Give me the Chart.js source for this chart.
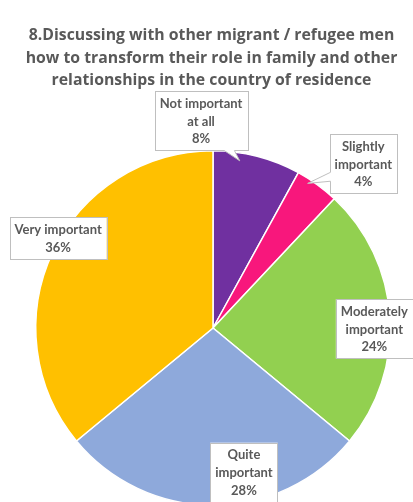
<!DOCTYPE html>
<html>
<head>
<meta charset="utf-8">
<script src="https://cdn.jsdelivr.net/npm/chart.js@4/dist/chart.umd.min.js"></script>
<style>
  html, body { margin: 0; padding: 0; background: #ffffff; overflow: hidden; }
  #wrap { width: 413px; height: 520px; position: relative; }
</style>
</head>
<body>
<div id="wrap"><canvas id="pie" width="413" height="520"></canvas></div>
<script>
// Survey answers, in clockwise order from 12 o'clock
const categories = [
  ['Not important', 'at all'],
  ['Slightly', 'important'],
  ['Moderately', 'important'],
  ['Quite', 'important'],
  ['Very important']
];
const shares = [8, 4, 24, 28, 36];
const sliceColors = ['#7030A0', '#F8177C', '#92D050', '#8EA9DB', '#FFC000'];
const titleLines = [
  '8.Discussing with other migrant / refugee men',
  'how to transform their role in family and other',
  'relationships in the country of residence'
];

const TEXT_COLOR = '#595959';
const TITLE_FONT = 'bold 15.8px "Open Sans", Lato, "Liberation Sans", sans-serif';
const LABEL_FONT = 'bold 13px Lato, "Open Sans", "Liberation Sans", sans-serif';

// Where each callout box sits relative to its slice (angle shift in degrees,
// distance as a fraction of the pie radius) and optional pointer wedge.
const calloutPlacement = [
  { shift: -17.7, dist: 1.17, pointer: { side: 'bottom', from: 0.75, to: 0.86, tipShift: -5.3, tipDist: 0.955 } },
  { shift: 6.5, dist: 1.255, pointer: { side: 'left', from: 0.64, to: 0.79, tipShift: -2.8, tipDist: 0.975 } },
  { shift: 3.9, dist: 0.91 },
  { shift: -12.1, dist: 0.833 },
  { shift: 4.9, dist: 1.01 }
];

const titlePlugin = {
  id: 'chartHeading',
  afterDraw(chart) {
    const ctx = chart.ctx;
    ctx.save();
    ctx.fillStyle = TEXT_COLOR;
    ctx.font = TITLE_FONT;
    ctx.textAlign = 'center';
    ctx.textBaseline = 'alphabetic';
    titleLines.forEach((line, i) => {
      ctx.fillText(line, 211.5, 40 + i * 22.5);
    });
    ctx.restore();
  }
};

const calloutPlugin = {
  id: 'sliceCallouts',
  afterDatasetsDraw(chart) {
    const ctx = chart.ctx;
    const meta = chart.getDatasetMeta(0);
    const lineH = 17.8;
    const padX = 5;
    const padY = 3;
    ctx.save();
    ctx.font = LABEL_FONT;
    meta.data.forEach((arc, i) => {
      const props = arc.getProps(['x', 'y', 'startAngle', 'endAngle', 'outerRadius'], true);
      const mid = (props.startAngle + props.endAngle) / 2;
      const place = calloutPlacement[i];
      const ang = mid + place.shift * Math.PI / 180;
      const cx = props.x + props.outerRadius * place.dist * Math.cos(ang);
      const cy = props.y + props.outerRadius * place.dist * Math.sin(ang);
      const lines = [].concat(categories[i], shares[i] + '%');
      const textW = Math.max(...lines.map(l => ctx.measureText(l).width));
      const w = textW + padX * 2;
      const h = lines.length * lineH + padY * 2;
      const left = cx - w / 2;
      const top = cy - h / 2;

      ctx.fillStyle = '#ffffff';
      ctx.strokeStyle = '#BFBFBF';
      ctx.lineWidth = 1;
      ctx.fillRect(left, top, w, h);
      ctx.strokeRect(Math.round(left) + 0.5, Math.round(top) + 0.5, Math.round(w), Math.round(h));

      if (place.pointer) {
        const pt = place.pointer;
        const ta = mid + pt.tipShift * Math.PI / 180;
        const tx = props.x + props.outerRadius * pt.tipDist * Math.cos(ta);
        const ty = props.y + props.outerRadius * pt.tipDist * Math.sin(ta);
        let a, b, ai, bi;
        if (pt.side === 'bottom') {
          const yb = Math.round(top) + Math.round(h) + 0.5;
          a = [left + w * pt.from, yb];
          b = [left + w * pt.to, yb];
          ai = [a[0], yb - 2];
          bi = [b[0], yb - 2];
        } else {
          const xl = Math.round(left) + 0.5;
          a = [xl, top + h * pt.from];
          b = [xl, top + h * pt.to];
          ai = [xl + 2, a[1]];
          bi = [xl + 2, b[1]];
        }
        ctx.beginPath();
        ctx.moveTo(ai[0], ai[1]);
        ctx.lineTo(a[0], a[1]);
        ctx.lineTo(tx, ty);
        ctx.lineTo(b[0], b[1]);
        ctx.lineTo(bi[0], bi[1]);
        ctx.closePath();
        ctx.fill();
        ctx.beginPath();
        ctx.moveTo(a[0], a[1]);
        ctx.lineTo(tx, ty);
        ctx.lineTo(b[0], b[1]);
        ctx.stroke();
      }

      ctx.fillStyle = TEXT_COLOR;
      ctx.textAlign = 'center';
      ctx.textBaseline = 'middle';
      lines.forEach((l, k) => {
        ctx.fillText(l, cx, top + padY + lineH * (k + 0.5) + 0.5);
      });
    });
    ctx.restore();
  }
};

new Chart(document.getElementById('pie'), {
  type: 'pie',
  data: {
    labels: categories,
    datasets: [{
      data: shares,
      backgroundColor: sliceColors,
      borderColor: '#ffffff',
      borderWidth: 1.5
    }]
  },
  options: {
    responsive: false,
    animation: false,
    layout: { padding: { top: 150, left: 35, right: 22, bottom: 14 } },
    plugins: {
      legend: { display: false },
      title: { display: false },
      tooltip: { enabled: false }
    }
  },
  plugins: [calloutPlugin, titlePlugin]
});
</script>
</body>
</html>
